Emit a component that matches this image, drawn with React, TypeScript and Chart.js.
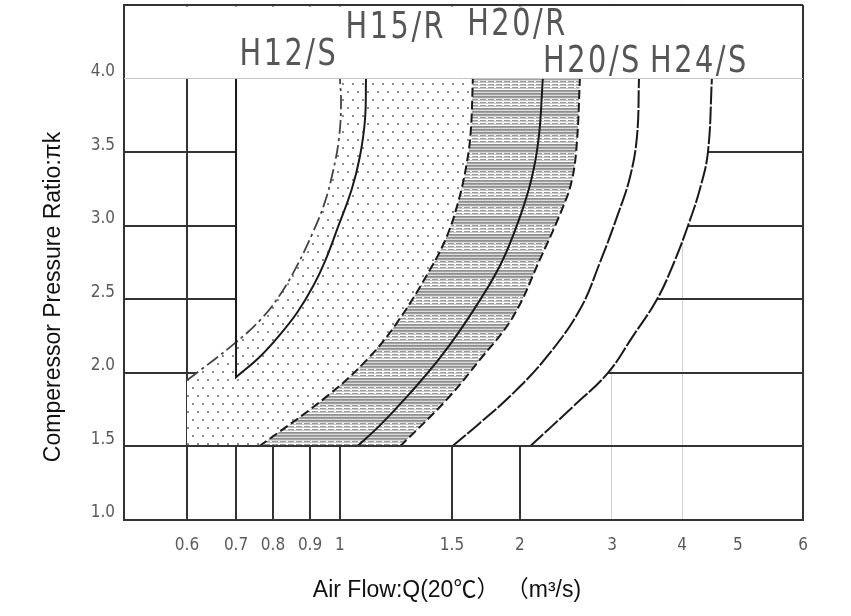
import React, { useEffect, useRef } from 'react';
import { Chart, registerables, LinearScale } from 'chart.js';

Chart.register(...registerables);

// ---------------- data ----------------
const X_TICKS = [0.6, 0.7, 0.8, 0.9, 1, 1.5, 2, 3, 4, 5, 6];
const X_TICK_LABELS = ['0.6', '0.7', '0.8', '0.9', '1', '1.5', '2', '3', '4', '5', '6'];
const Y_TICKS = [1.0, 1.5, 2.0, 2.5, 3.0, 3.5, 4.0];
const Y_TICK_LABELS = ['1.0', '1.5', '2.0', '2.5', '3.0', '3.5', '4.0'];

const X_TITLE = 'Air Flow:Q(20℃） （m³/s)';
const Y_TITLE = 'Comperessor Pressure Ratio:πk';

const PR_BASE = 1.5; // lower limit of the map
const PR_TOP = 4.0; // upper limit of the map

// dash-dot boundary (left edge of the H15/R dotted field)
const SURGE_X = [0.6, 0.693, 0.772, 0.823, 0.866, 0.906, 0.945, 0.976, 0.997, 1.004, 1.0];
const SURGE_Y = [1.95, 2.19, 2.38, 2.55, 2.74, 2.94, 3.14, 3.37, 3.6, 3.83, 4.0];
// H12/S outline (vertical edge then curve)
const H12S_X = [0.7, 0.7, 0.763, 0.818, 0.864, 0.91, 0.949, 0.993, 1.044, 1.075, 1.095, 1.099];
const H12S_Y = [4.0, 1.97, 2.11, 2.26, 2.41, 2.59, 2.76, 2.99, 3.25, 3.47, 3.72, 4.0];
// H15/R right limit (dashed)
const H15R_X = [0.761, 0.955, 1.103, 1.229, 1.385, 1.473, 1.545, 1.598, 1.625, 1.639];
const H15R_Y = [1.5, 1.84, 2.09, 2.34, 2.7, 2.93, 3.18, 3.43, 3.65, 4.0];
// H20/R centre line (solid)
const H20R_X = [1.064, 1.16, 1.288, 1.447, 1.646, 1.845, 1.992, 2.109, 2.175, 2.213];
const H20R_Y = [1.5, 1.65, 1.86, 2.12, 2.43, 2.74, 3.04, 3.33, 3.61, 4.0];
// H20/R right limit (dashed)
const H20R_LIM_X = [1.243, 1.473, 1.689, 1.942, 2.184, 2.407, 2.515, 2.571, 2.605];
const H20R_LIM_Y = [1.5, 1.82, 2.09, 2.38, 2.77, 3.11, 3.31, 3.57, 4.0];
// H20/S
const H20S_X = [1.5, 1.689, 1.942, 2.253, 2.605, 2.845, 3.062, 3.23, 3.325, 3.352];
const H20S_Y = [1.5, 1.66, 1.86, 2.11, 2.43, 2.75, 3.06, 3.33, 3.61, 4.0];
// H24/S
const H24S_X = [2.09, 2.526, 2.947, 3.27, 3.61, 3.871, 4.097, 4.297, 4.437, 4.508];
const H24S_Y = [1.5, 1.77, 2.0, 2.25, 2.5, 2.75, 3.0, 3.25, 3.5, 4.0];

const MODEL_LABELS = ['H12/S', 'H15/R', 'H20/R', 'H20/S', 'H24/S'];
const MODEL_LABEL_X = [0.839, 1.22, 1.971, 2.741, 4.272];
const MODEL_LABEL_Y = [4.095, 4.279, 4.299, 4.048, 4.048];

// ---------------- non-uniform chart-paper axis ----------------
const AXIS_KNOT_VALUES = [0.5, 0.6, 0.7, 0.8, 0.9, 1, 1.5, 2, 3, 4, 5, 6];
const AXIS_KNOT_FRACS = [0, 0.0928, 0.165, 0.2194, 0.274, 0.318, 0.483, 0.583, 0.7187, 0.8218, 0.904, 1];

class ChartPaperScale extends LinearScale {
  static id = 'chartPaper';
  static defaults = LinearScale.defaults;
  valueToFrac(v: number): number {
    const V = AXIS_KNOT_VALUES, F = AXIS_KNOT_FRACS, n = V.length;
    let i = 0;
    if (v >= V[n - 1]) i = n - 2;
    else while (i < n - 2 && v > V[i + 1]) i++;
    const t = Math.log(v / V[i]) / Math.log(V[i + 1] / V[i]);
    return F[i] + t * (F[i + 1] - F[i]);
  }
  fracToValue(f: number): number {
    const V = AXIS_KNOT_VALUES, F = AXIS_KNOT_FRACS, n = V.length;
    let i = 0;
    if (f >= F[n - 1]) i = n - 2;
    else while (i < n - 2 && f > F[i + 1]) i++;
    const t = (f - F[i]) / (F[i + 1] - F[i]);
    return V[i] * Math.pow(V[i + 1] / V[i], t);
  }
  getPixelForValue(value: any) {
    if (value === null || value === undefined || isNaN(value) || value <= 0) return NaN;
    return this.getPixelForDecimal(this.valueToFrac(value));
  }
  getValueForPixel(pixel: number) {
    return this.fracToValue(this.getDecimalForPixel(pixel));
  }
}
Chart.register(ChartPaperScale as any);

type P = { x: number; y: number };
const pts = (xs: number[], ys: number[]): P[] => xs.map((x, i) => ({ x, y: ys[i] }));
const last = (a: P[]) => a[a.length - 1];
const rev = (a: P[]) => a.slice().reverse();
// consecutive segments share their end points, which keeps the joins sharp
const chain = (...segs: P[][]): P[] => segs.flat();

const NARROW = "'Liberation Sans Narrow', 'DejaVu Sans Condensed', sans-serif";
const SANS = "'Liberation Sans', Arial, 'Noto Sans CJK SC', sans-serif";
const DARK = '#333333';

function makeDots(): CanvasPattern | string {
  const c = document.createElement('canvas');
  c.width = 10;
  c.height = 16;
  const g = c.getContext('2d');
  if (!g) return '#eee';
  g.fillStyle = '#ffffff';
  g.fillRect(0, 0, 10, 16);
  g.fillStyle = '#8a8a8a';
  g.fillRect(2, 3, 2, 2);
  g.fillRect(7, 11, 2, 2);
  return g.createPattern(c, 'repeat') || '#eee';
}

function makeHatch(): CanvasPattern | string {
  const c = document.createElement('canvas');
  c.width = 8;
  c.height = 18;
  const g = c.getContext('2d');
  if (!g) return '#bbb';
  g.fillStyle = '#ffffff';
  g.fillRect(0, 0, 8, 18);
  for (let r = 0; r < 18; r++) {
    if (r < 9) {
      g.fillStyle = r % 3 === 2 ? '#dcdcdc' : r % 3 === 0 ? '#8e8e8e' : '#a4a4a4';
      g.fillRect(0, r, 8, 1);
    } else if (r % 3 === 0) {
      g.fillStyle = '#9a9a9a';
      g.fillRect(0, r, 6, 1);
    } else if (r % 3 === 1) {
      g.fillStyle = '#c6c6c6';
      g.fillRect(0, r, 8, 1);
    }
  }
  return g.createPattern(c, 'repeat') || '#bbb';
}

const paperPlugin = {
  id: 'paper',
  beforeDatasetsDraw(chart: any) {
    const { ctx, chartArea: a, scales } = chart;
    const yTop = scales.y.getPixelForValue(PR_TOP);
    ctx.save();
    ctx.fillStyle = '#ffffff';
    ctx.fillRect(a.left + 1.5, a.top + 1.5, a.right - a.left - 3, yTop - a.top - 1.5);
    ctx.restore();
  },
  afterDraw(chart: any) {
    const { ctx, chartArea: a, scales } = chart;
    ctx.save();
    ctx.fillStyle = '#565656';
    ctx.font = `32px ${NARROW}`;
    ctx.textAlign = 'center';
    ctx.textBaseline = 'alphabetic';
    (ctx as any).letterSpacing = '2.5px';
    MODEL_LABELS.forEach((t, i) => {
      ctx.save();
      ctx.translate(scales.x.getPixelForValue(MODEL_LABEL_X[i]) + 1, scales.y.getPixelForValue(MODEL_LABEL_Y[i]));
      ctx.scale(1, 1.15);
      ctx.fillText(t, 0, 0);
      ctx.restore();
    });
    (ctx as any).letterSpacing = '0px';
    ctx.fillStyle = '#111111';
    ctx.font = `23px ${SANS}`;
    ctx.fillText(X_TITLE, a.left + 323, a.bottom + 77);
    ctx.translate(a.left - 64, a.top + 292);
    ctx.rotate(-Math.PI / 2);
    ctx.fillText(Y_TITLE, 0, 0);
    ctx.restore();
  },
};

export default function App() {
  const ref = useRef<HTMLCanvasElement | null>(null);

  useEffect(() => {
    if (!ref.current) return;
    const surge = pts(SURGE_X, SURGE_Y);
    const h12 = pts(H12S_X, H12S_Y);
    const h15 = pts(H15R_X, H15R_Y);
    const h20r = pts(H20R_X, H20R_Y);
    const h20rLim = pts(H20R_LIM_X, H20R_LIM_Y);
    const h20s = pts(H20S_X, H20S_Y);
    const h24s = pts(H24S_X, H24S_Y);

    const corner = { x: surge[0].x, y: PR_BASE };
    const h12Line = chain([h12[0], h12[1]], h12.slice(1));
    const envelope = chain([corner, surge[0]], surge, [last(surge), last(h24s)], rev(h24s));
    const h12Area = chain(h12Line, [last(h12), h12[0]]);
    const dotted = chain([corner, surge[0]], surge, [last(surge), last(h15)], rev(h15));
    const hatched = chain(h15, [last(h15), last(h20rLim)], rev(h20rLim));

    const base = { pointRadius: 0, tension: 0.4, xAxisID: 'x', yAxisID: 'y' };
    const area = (data: P[], bg: any, order: number) => ({
      ...base,
      data,
      fill: 'shape',
      backgroundColor: bg,
      borderColor: 'rgba(0,0,0,0)',
      borderWidth: 0,
      order,
    });
    const line = (label: string, data: P[], color: string, width: number, dash: number[]) => ({
      ...base,
      label,
      data,
      fill: false,
      borderColor: color,
      borderWidth: width,
      borderDash: dash,
      order: 1,
    });

    const gridX = (v: number) => (v === 5 ? 'rgba(0,0,0,0)' : v === 3 || v === 4 ? '#d2d2d2' : DARK);
    const gridXW = (v: number) => (v === 3 || v === 4 ? 1 : 2);

    const chart = new Chart(ref.current, {
      type: 'line',
      data: {
        datasets: [
          line('H24/S', h24s, '#1a1a1a', 2, [18, 2]),
          line('H20/S', h20s, '#1a1a1a', 2, [18, 2]),
          line('H20/R limit', h20rLim, '#1a1a1a', 2, [9, 4]),
          line('H20/R', h20r, '#1a1a1a', 2, []),
          line('H15/R limit', h15, '#1a1a1a', 2, [9, 4]),
          line('H12/S', h12Line, '#1a1a1a', 2, []),
          line('H15/R surge', surge, '#444444', 1.8, [14, 4, 3, 4]),
          area(hatched, makeHatch(), 10),
          area(dotted, makeDots(), 11),
          area(h12Area, '#ffffff', 12),
          area(envelope, '#ffffff', 13),
        ] as any,
      },
      options: {
        animation: false,
        responsive: false,
        devicePixelRatio: 1,
        events: [],
        layout: { padding: { top: 5, right: 48, left: 0, bottom: 0 } },
        plugins: { legend: { display: false }, tooltip: { enabled: false }, title: { display: false } },
        scales: {
          x: {
            type: 'chartPaper' as any,
            min: 0.5,
            max: 6,
            afterBuildTicks: (s: any) => {
              s.ticks = X_TICKS.map((v) => ({ value: v }));
            },
            afterFit: (s: any) => {
              s.height = 96;
              s.paddingLeft = 0;
              s.paddingRight = 0;
            },
            grid: {
              drawTicks: false,
              color: (c: any) => gridX(c.tick ? c.tick.value : 0),
              lineWidth: (c: any) => gridXW(c.tick ? c.tick.value : 0),
            },
            border: { display: true, color: DARK, width: 2 },
            ticks: {
              autoSkip: false,
              maxRotation: 0,
              minRotation: 0,
              padding: 15,
              color: '#5a5a5a',
              font: { family: NARROW, size: 17 },
              callback: (_v: any, i: number) => X_TICK_LABELS[i],
            },
          } as any,
          y: {
            type: 'linear',
            position: 'left',
            min: 1,
            max: 4.5,
            afterBuildTicks: (s: any) => {
              s.ticks = Y_TICKS.map((v) => ({ value: v }));
            },
            afterFit: (s: any) => {
              s.width = 124;
              s.paddingTop = 0;
              s.paddingBottom = 0;
            },
            grid: {
              drawTicks: false,
              color: (c: any) => {
                const v = c.tick ? c.tick.value : 0;
                return v === PR_BASE || v === PR_TOP ? 'rgba(0,0,0,0)' : DARK;
              },
              lineWidth: 2,
            },
            border: { display: true, color: DARK, width: 2 },
            ticks: {
              padding: 9,
              labelOffset: -7,
              color: '#5a5a5a',
              font: { family: NARROW, size: 17 },
              callback: (_v: any, i: number) => Y_TICK_LABELS[i],
            },
          } as any,
          y2: {
            type: 'linear',
            position: 'left',
            min: 1,
            max: 4.5,
            afterBuildTicks: (s: any) => {
              s.ticks = [PR_BASE, PR_TOP, 4.5].map((v) => ({ value: v }));
            },
            afterFit: (s: any) => {
              s.width = 0;
              s.paddingTop = 0;
              s.paddingBottom = 0;
            },
            grid: {
              z: 1,
              drawTicks: false,
              color: (c: any) => (c.tick && c.tick.value === PR_TOP ? '#c4c4c4' : DARK),
              lineWidth: (c: any) => (c.tick && c.tick.value === PR_TOP ? 1 : 2),
            },
            border: { display: false },
            ticks: { display: false },
          } as any,
        },
      },
      plugins: [paperPlugin],
    });
    return () => chart.destroy();
  }, []);

  return (
    <div style={{ position: 'absolute', left: 0, top: 0, width: 851, height: 616, background: '#ffffff' }}>
      <canvas ref={ref} width={851} height={616} style={{ display: 'block' }} />
    </div>
  );
}
